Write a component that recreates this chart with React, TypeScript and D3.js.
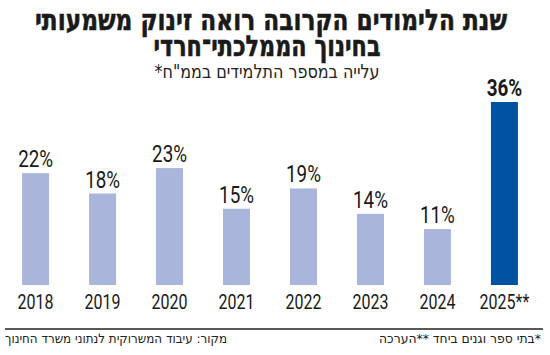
import React, { useEffect } from "react";
import * as d3 from "d3";

const years = ["2018", "2019", "2020", "2021", "2022", "2023", "2024", "2025**"];
const growth = [22, 18, 23, 15, 19, 14, 11, 36];
const highlightYear = "2025**";

const titleLines = ["שנת הלימודים הקרובה רואה זינוק משמעותי", "בחינוך הממלכתי־חרדי"];
const subtitle = "עלייה במספר התלמידים בממ\"ח*";
const sourceNote = "מקור: עיבוד המשרוקית לנתוני משרד החינוך";
const footNote = "*בתי ספר וגנים ביחד **הערכה";

const W = 550;
const H = 355;
const baseY = 285;
const squeeze = 0.8; // condensed look for numbers

const numFont = "Roboto, 'DejaVu Sans', sans-serif";
const hebFont = "'DejaVu Sans', 'Liberation Sans', sans-serif";

export default function App() {
  useEffect(() => {
    document.body.style.margin = "0";
  }, []);

  const x = d3
    .scaleBand()
    .domain(years)
    .range([2, 538])
    .paddingInner(0.597)
    .paddingOuter(0.3);

  const y = d3.scaleLinear().domain([0, 36]).range([baseY, 102]);

  return (
    <svg width={W} height={H} style={{ position: "absolute", left: 0, top: 0, background: "#fff" }}>
      {/* title, stroked a bit to get the heavy look */}
      <text x={271} y={30} textAnchor="middle" direction="rtl" fontFamily={hebFont} fontWeight="bold"
        fontSize={29} fill="#1a1a1a" stroke="#1a1a1a" strokeWidth={0.6}
        textLength={472} lengthAdjust="spacingAndGlyphs">
        {titleLines[0]}
      </text>
      <text x={267} y={56} textAnchor="middle" direction="rtl" fontFamily={hebFont} fontWeight="bold"
        fontSize={29} fill="#1a1a1a" stroke="#1a1a1a" strokeWidth={0.6}
        textLength={227} lengthAdjust="spacingAndGlyphs">
        {titleLines[1]}
      </text>
      <text x={267} y={78} textAnchor="middle" direction="rtl" fontFamily={hebFont}
        fontSize={19} fill="#222" textLength={225} lengthAdjust="spacingAndGlyphs">
        {subtitle}
      </text>

      {/* bars */}
      {years.map((yr, i) => {
        const hi = yr === highlightYear;
        const cx = (x(yr) ?? 0) + x.bandwidth() / 2;
        return (
          <g key={yr}>
            <rect x={x(yr)} y={y(growth[i])} width={x.bandwidth()} height={baseY - y(growth[i])}
              fill={hi ? "#0052a2" : "#aab5dc"} />
            <text transform={`translate(${cx},${y(growth[i]) - 6}) scale(${squeeze},1)`} textAnchor="middle"
              fontFamily={numFont} fontWeight={hi ? "bold" : "normal"} fontSize={23.5} fill="#1a1a1a">
              {growth[i]}%
            </text>
            <text transform={`translate(${cx},309) scale(${squeeze},1)`} textAnchor="middle"
              fontFamily={numFont} fontSize={20} fill="#1a1a1a">
              {yr}
            </text>
          </g>
        );
      })}

      {/* footer */}
      <line x1={5} x2={543} y1={329} y2={329} stroke="#222" strokeWidth={1.5} />
      <text x={5} y={343} textAnchor="end" direction="rtl" fontFamily={hebFont} fontSize={13}
        fill="#222" textLength={222} lengthAdjust="spacingAndGlyphs">
        {sourceNote}
      </text>
      <text x={541} y={343} textAnchor="start" direction="rtl" fontFamily={hebFont} fontSize={13}
        fill="#222" textLength={162} lengthAdjust="spacingAndGlyphs">
        {footNote}
      </text>
    </svg>
  );
}
